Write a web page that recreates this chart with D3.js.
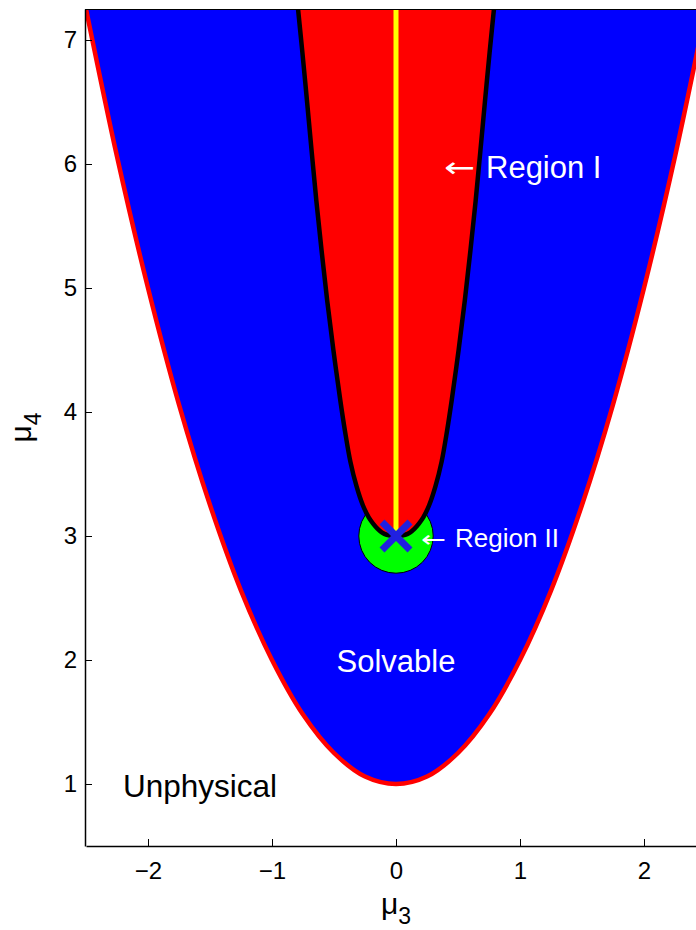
<!DOCTYPE html>
<html>
<head>
<meta charset="utf-8">
<script src="https://cdn.jsdelivr.net/npm/d3@7"></script>
<style>
  html, body { margin: 0; padding: 0; background: #fff; }
  svg { display: block; }
  text { font-family: "Liberation Sans", Arial, Helvetica, sans-serif; }
</style>
</head>
<body>
<svg id="chart" width="696" height="930"></svg>
<script>
// Boundary of the physical region: μ4 vs μ3
const edgeMu3 = [-2.5, -2.25, -2, -1.75, -1.5, -1.25, -1, -0.75, -0.5, -0.25, 0, 0.25, 0.5, 0.75, 1, 1.25, 1.5, 1.75, 2, 2.25, 2.5];
const edgeMu4 = [7.25, 6.06, 5, 4.06, 3.25, 2.56, 2, 1.56, 1.25, 1.06, 1, 1.06, 1.25, 1.56, 2, 2.56, 3.25, 4.06, 5, 6.06, 7.25];

// Region I boundary (symmetric): μ4 levels and the |μ3| half-width at each level
const regionMu4 = [3.0, 3.01, 3.03, 3.06, 3.1, 3.15, 3.25, 3.4, 3.6, 3.85, 4.1, 4.5, 4.9, 5.3, 5.7, 6.1, 6.5, 6.9, 7.25];
const regionHalfMu3 = [0, 0.075, 0.115, 0.15, 0.185, 0.22, 0.268, 0.318, 0.368, 0.412, 0.45, 0.505, 0.555, 0.6, 0.642, 0.68, 0.717, 0.755, 0.79];

// Region II: disc around the Gaussian point
const regionIICenter = [0, 3];
const regionIIRadius = 0.3;

const xTicks = [-2, -1, 0, 1, 2];
const yTicks = [1, 2, 3, 4, 5, 6, 7];

const xDomain = [-2.5, 2.5];
const yDomain = [0.5, 7.25];

const svg = d3.select("#chart");
const x = d3.scaleLinear().domain(xDomain).range([86, 706]);
const y = d3.scaleLinear().domain(yDomain).range([846, 9]);

svg.append("defs").append("clipPath").attr("id", "plotClip")
  .append("rect")
  .attr("x", x(xDomain[0])).attr("y", y(yDomain[1]))
  .attr("width", x(xDomain[1]) - x(xDomain[0]))
  .attr("height", y(yDomain[0]) - y(yDomain[1]));

const plot = svg.append("g").attr("clip-path", "url(#plotClip)");

// Solvable (blue) area: above the physical boundary
const edgePts = edgeMu3.map((d, i) => [d, edgeMu4[i]]);
const area = d3.area()
  .x(d => x(d[0]))
  .y0(y(yDomain[1]))
  .y1(d => y(d[1]))
  .curve(d3.curveCatmullRom);
plot.append("path").datum(edgePts)
  .attr("d", area)
  .attr("fill", "#0000ff");

// Unphysical boundary line
const line = d3.line().x(d => x(d[0])).y(d => y(d[1])).curve(d3.curveCatmullRom);
plot.append("path").datum(edgePts)
  .attr("d", line)
  .attr("fill", "none")
  .attr("stroke", "#ff0000")
  .attr("stroke-width", 4.5);

// Region II disc
const rPx = x(regionIIRadius) - x(0);
plot.append("circle")
  .attr("cx", x(regionIICenter[0]))
  .attr("cy", y(regionIICenter[1]))
  .attr("r", rPx)
  .attr("fill", "#00ff00")
  .attr("stroke", "#000")
  .attr("stroke-width", 1);

// Region I (red) bounded by the black curve
const leftBranch = regionMu4.map((m, i) => [-regionHalfMu3[i], m]).reverse();
const rightBranch = regionMu4.map((m, i) => [regionHalfMu3[i], m]).slice(1);
const regionPts = leftBranch.concat(rightBranch);
plot.append("path").datum(regionPts)
  .attr("d", line)
  .attr("fill", "#ff0000")
  .attr("stroke", "none");

// Symmetric line μ3 = 0
plot.append("line")
  .attr("x1", x(0)).attr("x2", x(0))
  .attr("y1", y(3)).attr("y2", y(yDomain[1]))
  .attr("stroke", "#ffff00")
  .attr("stroke-width", 5);

plot.append("path").datum(regionPts)
  .attr("d", line)
  .attr("fill", "none")
  .attr("stroke", "#000")
  .attr("stroke-width", 4.5);

// Gaussian point marker
const cx = x(regionIICenter[0]), cy = y(regionIICenter[1]);
const arm = 14;
plot.append("path")
  .attr("d", `M${cx - arm},${cy - arm}L${cx + arm},${cy + arm}M${cx - arm},${cy + arm}L${cx + arm},${cy - arm}`)
  .attr("stroke", "#2020e0")
  .attr("stroke-width", 7)
  .attr("fill", "none");

// Axes
const xAxis = d3.axisBottom(x).tickValues(xTicks).tickSizeInner(-7).tickSizeOuter(0).tickPadding(10)
  .tickFormat(d => d < 0 ? "\u2212" + Math.abs(d) : String(d));
const yAxis = d3.axisLeft(y).tickValues(yTicks).tickSizeInner(-7).tickSizeOuter(0).tickPadding(8)
  .tickFormat(d3.format("d"));

const gx = svg.append("g").attr("transform", `translate(0,${y(yDomain[0])})`).call(xAxis);
const gy = svg.append("g").attr("transform", `translate(${x(xDomain[0]) - 1},0)`).call(yAxis);
[gx, gy].forEach(g => {
  g.select(".domain").attr("stroke", "#000").attr("stroke-width", 1.5);
  g.selectAll(".tick line").attr("stroke", "#000").attr("stroke-width", 1);
  g.selectAll(".tick text").attr("fill", "#000").style("font-size", "24px")
    .style("font-family", "'Liberation Sans', Arial, sans-serif");
});
gx.selectAll(".tick text").attr("dy", "0.95em");

// Top border of the axes box
svg.append("line")
  .attr("x1", x(xDomain[0]) - 1).attr("x2", x(xDomain[1]))
  .attr("y1", y(yDomain[1]) + 0.5).attr("y2", y(yDomain[1]) + 0.5)
  .attr("stroke", "#000").attr("stroke-width", 1);

// Axis labels
const xl = svg.append("text").attr("x", x(0)).attr("y", 914).attr("text-anchor", "middle").attr("fill", "#000");
xl.append("tspan").style("font-size", "30px").text("\u03bc");
xl.append("tspan").style("font-size", "23px").attr("dy", 10).text("3");

const yl = svg.append("text").attr("transform", `translate(31,${(y(yDomain[0]) + y(yDomain[1])) / 2}) rotate(-90)`)
  .attr("text-anchor", "middle").attr("fill", "#000");
yl.append("tspan").style("font-size", "30px").text("\u03bc");
yl.append("tspan").style("font-size", "23px").attr("dy", 10).text("4");

// Annotations
const ann = svg.append("g").attr("fill", "#fff");
ann.append("text").attr("x", 444).attr("y", 177).style("font-size", "28px")
  .attr("textLength", 31).attr("lengthAdjust", "spacingAndGlyphs")
  .style("font-family", "'DejaVu Sans', sans-serif").text("\u2190");
ann.append("text").attr("x", 486).attr("y", 178).style("font-size", "31px").text("Region I");
ann.append("text").attr("x", 421).attr("y", 547).style("font-size", "23px")
  .attr("textLength", 25).attr("lengthAdjust", "spacingAndGlyphs")
  .style("font-family", "'DejaVu Sans', sans-serif").text("\u2190");
ann.append("text").attr("x", 455).attr("y", 547).style("font-size", "26px").text("Region II");
ann.append("text").attr("x", x(0)).attr("y", 672).attr("text-anchor", "middle").style("font-size", "31px").text("Solvable");

svg.append("text").attr("x", 123).attr("y", 797).attr("fill", "#000").style("font-size", "31.5px").text("Unphysical");
</script>
</body>
</html>
